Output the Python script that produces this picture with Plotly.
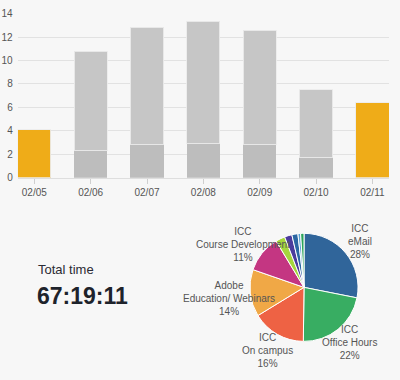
import plotly.graph_objects as go

# ---- data ----
dates = ["02/05", "02/06", "02/07", "02/08", "02/09", "02/10", "02/11"]
lower_hours = [0, 2.35, 2.85, 2.95, 2.85, 1.75, 0]
upper_hours = [4.08, 8.45, 10.0, 10.4, 9.75, 5.75, 6.4]
highlight = [True, False, False, False, False, False, True]

pie_labels = ["ICC eMail", "ICC Office Hours", "ICC On campus", "Adobe Education/ Webinars",
              "ICC Course Development", "Other A", "Other B", "Other C", "Other D", "Other E"]
pie_values = [28, 22, 16, 14, 11, 2.8, 2.2, 1.8, 0.8, 1.0]
pie_colors = ["#30659a", "#38ad62", "#ee6244", "#f0a846", "#c43682",
              "#a5d63d", "#4b3c9c", "#2b67a3", "#5a9fd0", "#2aa45a"]

total_time = "67:19:11"

# label texts for major slices (first five)
label_lines = [["ICC", "eMail", "28%"], ["ICC", "Office Hours", "22%"], ["ICC", "On campus", "16%"],
               ["Adobe", "Education/ Webinars", "14%"], ["ICC", "Course Development", "11%"]]
label_pos = [(360, 243), (349, 347), (267, 355), (229, 301), (243, 246)]

W, H = 400, 380
FONT = "Arial, Liberation Sans, sans-serif"

ORANGE = "#efac18"
bottom_colors = ["#bdbdbd" if not h else ORANGE for h in highlight]
top_colors = ["#c6c6c6" if not h else ORANGE for h in highlight]

fig = go.Figure()
fig.add_trace(go.Bar(x=dates, y=lower_hours, marker=dict(color=bottom_colors, line=dict(width=0)),
                     hoverinfo="skip", showlegend=False))
fig.add_trace(go.Bar(x=dates, y=upper_hours,
                     marker=dict(color=top_colors, line=dict(color="rgba(235,235,235,0.9)", width=1)),
                     hoverinfo="skip", showlegend=False))

fig.add_trace(go.Pie(labels=pie_labels, values=pie_values, sort=False, direction="clockwise",
                     rotation=0, textinfo="none", hoverinfo="skip", showlegend=False,
                     marker=dict(colors=pie_colors, line=dict(color="white", width=1)),
                     domain=dict(x=[248.5 / W, 359.5 / W], y=[1 - 345.5 / H, 1 - 234.5 / H])))

fig.update_layout(
    width=W, height=H, margin=dict(l=0, r=0, t=0, b=0),
    paper_bgcolor="#f7f7f7", plot_bgcolor="#f7f7f7",
    barmode="stack", bargap=0.41,
    font=dict(family=FONT, size=10, color="#555"),
    xaxis=dict(domain=[17.7 / W, 389 / W], range=[-0.295, 6.295], showgrid=False,
               ticks="outside", ticklen=5, tickcolor="#cfcfcf", showline=True,
               linecolor="#dedede", linewidth=1, tickfont=dict(size=10, color="#555"),
               fixedrange=True),
    yaxis=dict(domain=[1 - 177.3 / H, 1 - 9 / H], range=[0, 14], dtick=2,
               gridcolor="#e2e2e2", gridwidth=1, zeroline=False,
               tickfont=dict(size=10, color="#555"), ticklabelstandoff=4, fixedrange=True),
)

annotations = [
    dict(text="Total time", x=36 / W, y=1 - 271.7 / H, xref="paper", yref="paper",
         xanchor="left", yanchor="middle", showarrow=False,
         font=dict(family=FONT, size=13, color="#2b2b33")),
    dict(text="<b>" + total_time + "</b>", x=35 / W, y=1 - 298.7 / H, xref="paper", yref="paper",
         xanchor="left", yanchor="middle", showarrow=False,
         font=dict(family=FONT, size=23, color="#1e232b")),
]
for lines, (px, py) in zip(label_lines, label_pos):
    annotations.append(dict(text="<br>".join(lines), x=px / W, y=1 - py / H,
                            xref="paper", yref="paper", xanchor="center", yanchor="middle",
                            showarrow=False, align="center",
                            font=dict(family=FONT, size=10, color="#555")))
fig.update_layout(annotations=annotations)

fig.write_html("out.html", config={"displayModeBar": False},
               post_script="document.body.style.margin='0';document.body.style.background='#f7f7f7';")
